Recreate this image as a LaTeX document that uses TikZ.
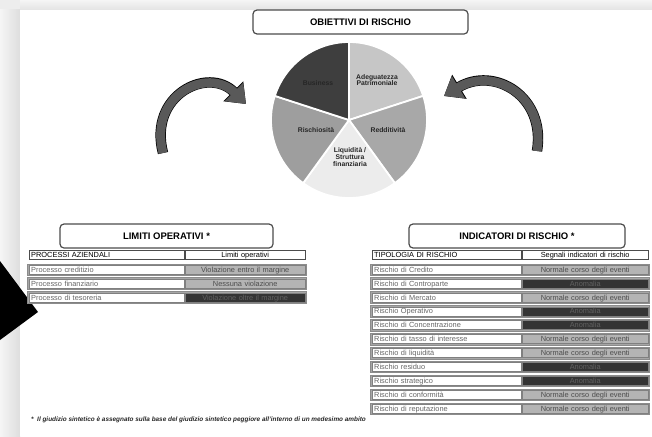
\documentclass[tikz,border=0pt]{standalone}
\usepackage{fontspec}
\setmainfont{Liberation Sans}
\usetikzlibrary{arrows.meta,calc,positioning}
\definecolor{pgBus}{RGB}{62,62,62}
\definecolor{pgAdeg}{RGB}{198,198,198}
\definecolor{pgRedd}{RGB}{168,168,168}
\definecolor{pgLiq}{RGB}{236,236,236}
\definecolor{pgRisc}{RGB}{158,158,158}
\definecolor{stLight}{RGB}{180,180,180}
\definecolor{stDark}{RGB}{52,52,52}
\newcommand{\fsz}[1]{\fontsize{#1}{#1}\selectfont}

\begin{document}
\begin{tikzpicture}[
      x=1pt, y=-1pt,
      titlebox/.style={rounded corners=4pt, draw=black!70, line width=1.2pt, fill=white,
                       minimum height=24pt, inner sep=0pt, font=\bfseries\fsz{9.5}},
      slice/.style={draw=white, line width=1.8pt, line join=round},
      slabel/.style={align=center, font=\bfseries\fsz{6.8}, text=black!85, inner sep=0pt},
      bigarrow/.style={line width=9pt, draw=black!65, -{Triangle[length=17pt,width=25pt]},
                       preaction={draw=black, line width=10.4pt, -{Triangle[length=18pt,width=27pt]}}},
      rowband/.style={fill=black!35, draw=black!45, line width=0.4pt},
      cell/.style={minimum height=9pt, inner ysep=0pt, inner xsep=2pt, anchor=west,
                   text height=6.3pt, text depth=0.8pt,
                   font=\fsz{7.4}, draw=black!50, line width=0.4pt},
      cellL/.style={cell, fill=white, text=black!60, align=left},
      cellR/.style={cell, align=center},
      hdr/.style={draw=black!70, text=black},
      limL/.style={cellL, text width=151pt},
      limR/.style={cellR, text width=116pt},
      indL/.style={cellL, text width=145pt},
      indR/.style={cellR, text width=122pt},
      stNorm/.style={fill=stLight, text=black!70},
      stMid/.style={fill=stLight, text=black!70},
      stAnom/.style={fill=stDark, text=black!62}
    ]
    \useasboundingbox (0,0) rectangle (652,436);

    % -------- BACKGROUND --------
    \fill[black!7] (0,0) rectangle (652,436);
    \shade[left color=black!4, right color=black!13] (0,10) rectangle (20,436);
    \shade[top color=black!4, bottom color=black!11] (20,0) rectangle (652,10);
    \fill[white] (20,10) rectangle (652,436);
    \fill[black] (0,261) -- (38,312) -- (0,340) -- cycle;

    % -------- OBIETTIVI --------
    \node[titlebox, minimum width=215pt] (tObj) at (360.5,22) {OBIETTIVI DI RISCHIO};

    \begin{scope}[shift={(349,120)}, y=1pt]
      \foreach \a/\col in {90/pgAdeg, 18/pgRedd, -54/pgLiq, -126/pgRisc, 162/pgBus}
        \filldraw[slice, fill=\col] (0,0) -- (\a:78) arc[start angle=\a, delta angle=-72, radius=78] -- cycle;
    \end{scope}

    \node[slabel] (sBus) at (318,83) {Business};
    \node[slabel] (sAdeg) at (377,80) {Adeguatezza\\Patrimoniale};
    \node[slabel] (sRedd) at (388,130) {Redditività};
    \node[slabel] (sRisc) at (316,130) {Rischiosità};
    \node[slabel] (sLiq) at (350,157) {Liquidità /\\Struttura\\finanziaria};

    % frecce curve
    \coordinate (lTail) at (163,153);
    \coordinate (lHead) at (246,104);
    \coordinate (rTail) at (537,151);
    \coordinate (rHead) at (444,96);
    \draw[bigarrow] (lTail) .. controls (148,95) and (208,66) .. (lHead);
    \draw[bigarrow] (rTail) .. controls (546,96) and (494,66) .. (rHead);

    % -------- LIMITI OPERATIVI --------
    \node[titlebox, minimum width=213pt] (tLim) at (166.5,236) {LIMITI OPERATIVI *};
    \node[limL, hdr] (lhL) at (29,255) {PROCESSI AZIENDALI};
    \node[limR, hdr, fill=white] (lhR) at (185,255) {Limiti operativi};

    \foreach \pr/\lm/\st [count=\i] in {
        Processo creditizio/Violazione entro il margine/stMid,
        Processo finanziario/Nessuna violazione/stMid,
        Processo di tesoreria/Violazione oltre il margine/stAnom}{
      \pgfmathsetmacro\yy{269.5+13.9*(\i-1)}
      \filldraw[rowband] (27.5,\yy-5.8) rectangle (306.5,\yy+5.8);
      \node[limL] (lrL\i) at (29,\yy) {\pr};
      \node[limR, \st] (lrR\i) at (185,\yy) {\lm};
    }

    % -------- INDICATORI DI RISCHIO --------
    \node[titlebox, minimum width=216pt] (tInd) at (517,236) {INDICATORI DI RISCHIO *};
    \node[indL, hdr] (ihL) at (372,255) {TIPOLOGIA DI RISCHIO};
    \node[indR, hdr, fill=white] (ihR) at (522,255) {Segnali indicatori di rischio};

    \foreach \rk/\sg/\st [count=\i] in {
        Rischio di Credito/Normale corso degli eventi/stNorm,
        Rischio di Controparte/Anomalia/stAnom,
        Rischio di Mercato/Normale corso degli eventi/stNorm,
        Rischio Operativo/Anomalia/stAnom,
        Rischio di Concentrazione/Anomalia/stAnom,
        Rischio di tasso di interesse/Normale corso degli eventi/stNorm,
        Rischio di liquidità/Normale corso degli eventi/stNorm,
        Rischio residuo/Anomalia/stAnom,
        Rischio strategico/Anomalia/stAnom,
        Rischio di conformità/Normale corso degli eventi/stNorm,
        Rischio di reputazione/Normale corso degli eventi/stNorm}{
      \pgfmathsetmacro\yy{269.5+13.9*(\i-1)}
      \filldraw[rowband] (370.5,\yy-5.8) rectangle (649.5,\yy+5.8);
      \node[indL] (irL\i) at (372,\yy) {\rk};
      \node[indR, \st] (irR\i) at (522,\yy) {\sg};
    }

    % nota
    \node[anchor=west, font=\bfseries\itshape\fsz{6.4}, text=black!85, inner sep=0pt] (nota) at (31,420)
      {*\ \ Il giudizio sintetico è assegnato sulla base del giudizio sintetico peggiore all'interno di un medesimo ambito};

    \end{tikzpicture}
\end{document}
